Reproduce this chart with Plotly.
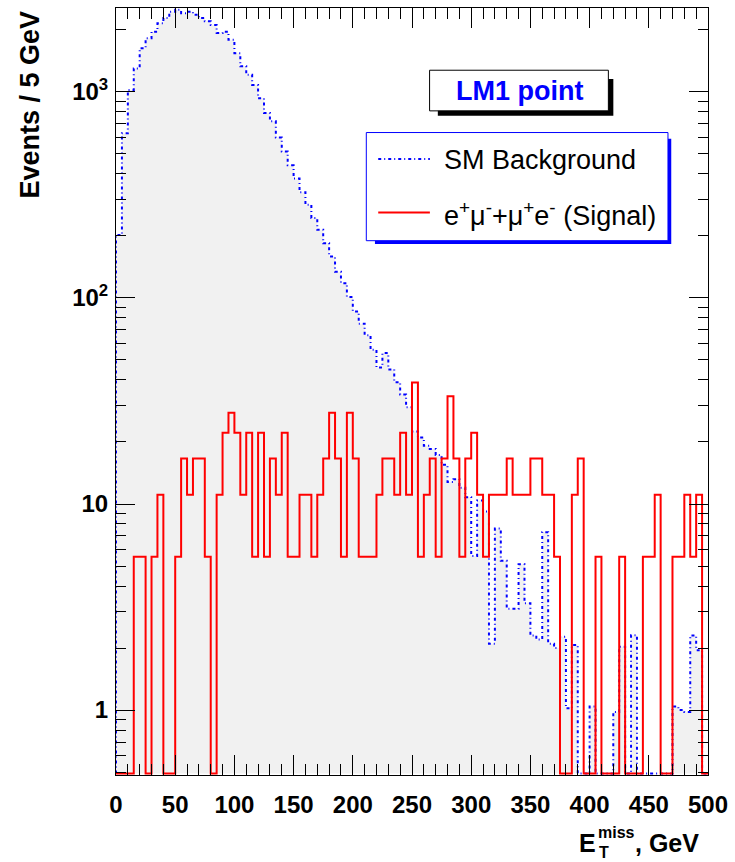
import plotly.graph_objects as go

# ---------------- data ----------------
BIN_WIDTH = 5
BIN_LOW = list(range(0, 500, BIN_WIDTH))  # 100 bins, 0..495 GeV

SM_BKG = [
    202, 630, 1020, 1300, 1630, 1820, 1960, 2150, 2280, 2450,
    2500, 2410, 2450, 2370, 2280, 2200, 2110, 1930, 1960, 1790,
    1540, 1330, 1210, 1080, 930, 790, 720, 600, 513, 440,
    380, 326, 283, 244, 214, 184, 159, 134, 118, 101,
    86, 75, 66, 56, 46, 54, 45, 39, 34, 29.5,
    22.5, 21, 19.2, 18.5, 17.3, 15.5, 12.8, 13.2, 12.0, 10.8,
    5.6, 10.4, 9.2, 2.1, 7.6, 5.3, 3.1, 3.1, 5.1, 3.3,
    2.3, 2.2, 7.3, 2.1, 2.0, 2.27, 1.02, 2.07, 0, 0,
    1.04, 0, 0, 0, 0.98, 2.03, 0, 2.31, 0, 0,
    0, 0, 0, 0, 1.04, 1.0, 0.98, 2.3, 1.95, 0,
]

SIGNAL = [
    0, 0, 0, 5.55, 5.55, 0, 5.55, 11.1, 0, 0,
    5.55, 16.65, 11.1, 16.65, 16.65, 5.55, 0, 11.1, 22.2, 27.75,
    22.2, 11.1, 22.2, 5.55, 22.2, 5.55, 16.65, 11.1, 22.2, 5.55,
    5.55, 11.1, 11.1, 5.55, 11.1, 16.65, 27.75, 16.65, 5.55, 27.75,
    16.65, 5.55, 5.55, 5.55, 11.1, 16.65, 16.65, 11.1, 22.2, 11.1,
    38.85, 5.55, 11.1, 16.65, 5.55, 16.65, 33.3, 16.65, 5.55, 16.65,
    22.2, 11.1, 5.55, 11.1, 11.1, 11.1, 16.65, 11.1, 11.1, 11.1,
    16.65, 16.65, 11.1, 11.1, 5.55, 0, 0, 11.1, 16.65, 0,
    0, 5.55, 0, 0, 0, 5.55, 0, 0, 0, 5.55,
    5.55, 11.1, 0, 0, 5.55, 5.55, 11.1, 5.55, 11.1, 0,
]

X_TICKS = list(range(0, 501, 50))
X_MINOR = list(range(0, 501, 10))
Y_TICKS = [1, 10, 100, 1000]
Y_TICK_TEXT = ["1", "10", "10<sup>2</sup>", "10<sup>3</sup>"]
Y_MINOR = [0.5, 0.6, 0.7, 0.8, 0.9] + [m * d for d in (1, 10, 100) for m in range(2, 10)] + [2000]
Y_RANGE_LOG = [-0.315, 3.407]
Y_FLOOR = 0.492  # empty bins are drawn on the frame bottom (as ROOT does)

# ---------------- geometry helpers ----------------
W, H = 735, 862
ML, MR, MT, MB = 116, 23, 7, 87
PW, PH = W - ML - MR, H - MT - MB


def px(x):
    return (x - ML) / PW


def py(y):
    return (H - MB - y) / PH


def step_xy(vals):
    xs = [BIN_LOW[0]] + BIN_LOW + [BIN_LOW[-1] + BIN_WIDTH] * 2
    ys = [Y_FLOOR] + [v if v > 0 else Y_FLOOR for v in vals]
    ys += [vals[-1] if vals[-1] > 0 else Y_FLOOR, Y_FLOOR]
    return xs, ys


FONT = "Liberation Sans"
BLUE = "#0000ff"
RED = "#ff0000"

fig = go.Figure()

bx, by = step_xy(SM_BKG)
fig.add_trace(go.Scatter(
    x=bx, y=by, mode="lines", line_shape="hv",
    line=dict(color=BLUE, width=2, dash="3px,3px,1px,3px"),
    fill="toself", fillcolor="#f1f1f1", name="SM Background",
    hoverinfo="skip",
))

sx, sy = step_xy(SIGNAL)
fig.add_trace(go.Scatter(
    x=sx, y=sy, mode="lines", line_shape="hv",
    line=dict(color=RED, width=2), name="Signal", hoverinfo="skip",
))

tickfont = dict(family=FONT, size=24, color="black", weight="bold")

fig.update_xaxes(
    range=[0, 500], showgrid=False, zeroline=False,
    showline=True, linecolor="black", linewidth=1, mirror="allticks",
    ticks="inside", ticklen=20, tickwidth=1, tickcolor="black",
    tickmode="array", tickvals=X_TICKS, tickfont=tickfont,
    ticklabelstandoff=8,
    minor=dict(tickmode="array", tickvals=X_MINOR, ticks="inside",
               ticklen=11, tickwidth=1, tickcolor="black"),
)
fig.update_yaxes(
    type="log", range=Y_RANGE_LOG, showgrid=False, zeroline=False,
    showline=True, linecolor="black", linewidth=1, mirror="allticks",
    ticks="inside", ticklen=19, tickwidth=1, tickcolor="black",
    tickmode="array", tickvals=Y_TICKS, ticktext=Y_TICK_TEXT, tickfont=tickfont,
    ticklabelstandoff=2,
    minor=dict(tickmode="array", tickvals=Y_MINOR, ticks="inside",
               ticklen=10, tickwidth=1, tickcolor="black"),
)

shapes = []
annotations = []

# LM1 point box with black shadow
shapes.append(dict(type="rect", xref="paper", yref="paper",
                   x0=px(440), x1=px(616.7), y0=py(115), y1=py(78),
                   fillcolor="black", line=dict(width=0)))
shapes.append(dict(type="rect", xref="paper", yref="paper",
                   x0=px(431.7), x1=px(611.7), y0=py(110), y1=py(69.3),
                   fillcolor="white", line=dict(color="black", width=1)))
annotations.append(dict(xref="paper", yref="paper", x=px(522), y=py(90),
                        text="LM1 point", showarrow=False,
                        xanchor="center", yanchor="middle",
                        font=dict(family=FONT, size=27, color=BLUE, weight="bold")))

# Legend box with blue shadow
shapes.append(dict(type="rect", xref="paper", yref="paper",
                   x0=px(376.7), x1=px(675), y0=py(243.3), y1=py(138),
                   fillcolor=BLUE, line=dict(width=0)))
shapes.append(dict(type="rect", xref="paper", yref="paper",
                   x0=px(368), x1=px(671.7), y0=py(240), y1=py(131.7),
                   fillcolor="white", line=dict(color=BLUE, width=1)))
shapes.append(dict(type="line", xref="paper", yref="paper",
                   x0=px(380), x1=px(432), y0=py(158.3), y1=py(158.3),
                   line=dict(color=BLUE, width=2, dash="3px,3px,1px,3px")))
shapes.append(dict(type="line", xref="paper", yref="paper",
                   x0=px(380), x1=px(432), y0=py(211.7), y1=py(211.7),
                   line=dict(color=RED, width=2)))
legfont = dict(family=FONT, size=27, color="black")
annotations.append(dict(xref="paper", yref="paper", x=px(444), y=py(159),
                        text="SM Background", showarrow=False,
                        xanchor="left", yanchor="middle", font=legfont))
annotations.append(dict(xref="paper", yref="paper", x=px(444), y=py(213),
                        text="e<sup>+</sup>\u03bc<sup>-</sup>+\u03bc<sup>+</sup>e<sup>-</sup> (Signal)",
                        showarrow=False, xanchor="left", yanchor="middle", font=legfont))

# Axis titles
annotations.append(dict(xref="paper", yref="paper", x=px(29), y=py(8),
                        text="Events / 5 GeV", showarrow=False, textangle=-90,
                        xanchor="center", yanchor="top",
                        font=dict(family=FONT, size=27, color="black", weight="bold")))
bigfont = dict(family=FONT, size=25, color="black", weight="bold")
smallfont = dict(family=FONT, size=16, color="black", weight="bold")
annotations.append(dict(xref="paper", yref="paper", x=px(600), y=py(843),
                        text="E", showarrow=False, xanchor="right", yanchor="middle",
                        font=bigfont, borderpad=0))
annotations.append(dict(xref="paper", yref="paper", x=px(600), y=py(833),
                        text="miss", showarrow=False, xanchor="left", yanchor="middle",
                        font=smallfont, borderpad=0))
annotations.append(dict(xref="paper", yref="paper", x=px(601), y=py(853),
                        text="T", showarrow=False, xanchor="left", yanchor="middle",
                        font=smallfont, borderpad=0))
annotations.append(dict(xref="paper", yref="paper", x=px(637), y=py(843),
                        text=", GeV", showarrow=False, xanchor="left", yanchor="middle",
                        font=bigfont, borderpad=0))

fig.update_layout(
    width=W, height=H,
    margin=dict(l=ML, r=MR, t=MT, b=MB, pad=0),
    paper_bgcolor="white", plot_bgcolor="white",
    showlegend=False, shapes=shapes, annotations=annotations,
)

fig.write_html("out.html")
